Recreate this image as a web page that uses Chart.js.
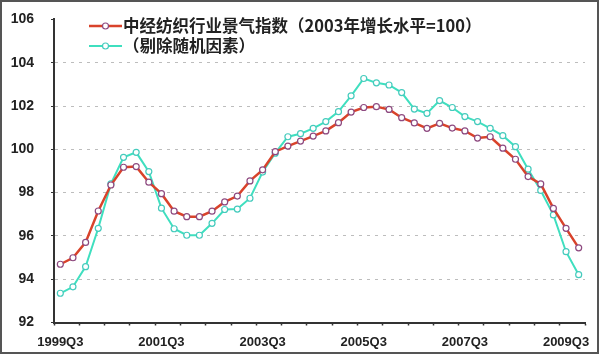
<!DOCTYPE html>
<html>
<head>
<meta charset="utf-8">
<script src="https://cdn.jsdelivr.net/npm/chart.js@4.4.1/dist/chart.umd.min.js"></script>
<style>
  html, body { margin: 0; padding: 0; background: #ffffff; }
  #wrap { width: 600px; height: 356px; position: relative; }
</style>
</head>
<body>
<div id="wrap"><canvas id="c" width="600" height="356"></canvas></div>
<script>
const quarters = [
  '1999Q3','1999Q4',
  '2000Q1','2000Q2','2000Q3','2000Q4',
  '2001Q1','2001Q2','2001Q3','2001Q4',
  '2002Q1','2002Q2','2002Q3','2002Q4',
  '2003Q1','2003Q2','2003Q3','2003Q4',
  '2004Q1','2004Q2','2004Q3','2004Q4',
  '2005Q1','2005Q2','2005Q3','2005Q4',
  '2006Q1','2006Q2','2006Q3','2006Q4',
  '2007Q1','2007Q2','2007Q3','2007Q4',
  '2008Q1','2008Q2','2008Q3','2008Q4',
  '2009Q1','2009Q2','2009Q3','2009Q4'
];
const indexValues = [
  94.69, 94.99, 95.70, 97.15, 98.35, 99.17, 99.20, 98.48, 97.95, 97.14,
  96.89, 96.89, 97.14, 97.57, 97.84, 98.54, 99.05, 99.89, 100.15, 100.38,
  100.61, 100.85, 101.23, 101.72, 101.93, 101.97, 101.84, 101.46, 101.22, 100.97,
  101.20, 100.98, 100.85, 100.52, 100.58, 100.05, 99.54, 98.74, 98.40, 97.27,
  96.35, 95.45
];
const adjustedValues = [
  93.35, 93.65, 94.58, 96.35, 98.40, 99.63, 99.86, 98.97, 97.28, 96.33,
  96.03, 96.03, 96.58, 97.22, 97.24, 97.74, 98.95, 99.82, 100.58, 100.72,
  100.97, 101.28, 101.74, 102.47, 103.27, 103.07, 102.97, 102.62, 101.86, 101.66,
  102.25, 101.93, 101.51, 101.28, 100.97, 100.63, 100.12, 99.08, 98.10, 96.97,
  95.27, 94.21
];
const seriesNames = ['中经纺织行业景气指数（2003年增长水平=100）', '（剔除随机因素）'];
const yMin = 92, yMax = 106, yStep = 2;

const RED = '#d9432b', RED_MARK = '#8e4a80';
const CYAN = '#3fdfbf', CYAN_MARK = '#45cbbd';

const framePlugin = {
  id: 'frame',
  beforeDraw(chart) {
    const ctx = chart.ctx;
    ctx.save();
    ctx.fillStyle = '#ffffff';
    ctx.fillRect(0, 0, chart.width, chart.height);
    ctx.restore();
  },
  afterDraw(chart) {
    const ctx = chart.ctx;
    ctx.save();
    ctx.strokeStyle = '#555555';
    ctx.lineWidth = 2;
    ctx.strokeRect(1, 1, 597, 352);
    const rows = [
      {y: 26, color: RED, mark: RED_MARK, lw: 2.5, text: seriesNames[0]},
      {y: 46, color: CYAN, mark: CYAN_MARK, lw: 2, text: seriesNames[1]}
    ];
    rows.forEach(r => {
      ctx.strokeStyle = r.color;
      ctx.lineWidth = r.lw;
      ctx.beginPath();
      ctx.moveTo(89, r.y);
      ctx.lineTo(122, r.y);
      ctx.stroke();
      ctx.beginPath();
      ctx.arc(105.5, r.y, 3, 0, Math.PI * 2);
      ctx.fillStyle = '#ffffff';
      ctx.fill();
      ctx.lineWidth = 1.2;
      ctx.strokeStyle = r.mark;
      ctx.stroke();
      ctx.fillStyle = '#222222';
      ctx.font = 'bold 16.5px "Noto Sans CJK SC"';
      ctx.textBaseline = 'middle';
      ctx.textAlign = 'left';
      ctx.fillText(r.text, 123, r.y);
    });
    ctx.restore();
  }
};

new Chart(document.getElementById('c'), {
  type: 'line',
  data: {
    labels: quarters,
    datasets: [
      {
        label: seriesNames[0],
        data: indexValues,
        borderColor: RED,
        borderWidth: 2.5,
        pointRadius: 3,
        pointBorderWidth: 1.2,
        pointBorderColor: RED_MARK,
        pointBackgroundColor: '#ffffff',
        tension: 0
      },
      {
        label: seriesNames[1],
        data: adjustedValues,
        borderColor: CYAN,
        borderWidth: 2,
        pointRadius: 3,
        pointBorderWidth: 1.2,
        pointBorderColor: CYAN_MARK,
        pointBackgroundColor: '#ffffff',
        tension: 0
      }
    ]
  },
  options: {
    responsive: false,
    animation: false,
    devicePixelRatio: 1,
    layout: { padding: { top: 19.4, right: 15, bottom: 0, left: 0 } },
    plugins: { legend: { display: false }, tooltip: { enabled: false } },
    scales: {
      x: {
        type: 'category',
        offset: true,
        afterFit(scale) { scale.height = 33.5; scale.paddingLeft = 0; scale.paddingRight = 0; },
        grid: {
          display: true,
          offset: true,
          drawOnChartArea: false,
          tickLength: 3,
          color: '#333333',
          tickColor: (ctx) => (ctx.index === undefined || ctx.index % 2 === 0) ? '#333333' : 'rgba(0,0,0,0)',
          tickWidth: 1.5
        },
        border: { display: true, color: '#333333', width: 2 },
        ticks: {
          autoSkip: false,
          maxRotation: 0,
          minRotation: 0,
          padding: 9,
          color: '#222222',
          font: { family: '"Liberation Sans", Arial', size: 13, weight: 'bold' },
          callback: (val, idx) => idx % 8 === 0 ? quarters[idx] : ''
        }
      },
      y: {
        min: yMin,
        max: yMax,
        afterFit(scale) { scale.width = 54; scale.paddingTop = 0; scale.paddingBottom = 0; },
        grid: {
          drawOnChartArea: true,
          tickLength: 3,
          color: (ctx) => (ctx.tick && (ctx.tick.value === yMin || ctx.tick.value === yMax)) ? 'rgba(0,0,0,0)' : '#bdbdbd',
          tickColor: '#333333',
          lineWidth: 1
        },
        border: { display: true, color: '#333333', width: 2, dash: [3, 5] },
        ticks: {
          stepSize: yStep,
          padding: 17,
          color: '#222222',
          font: { family: '"Liberation Sans", Arial', size: 14, weight: 'bold' }
        }
      }
    }
  },
  plugins: [framePlugin]
});
</script>
</body>
</html>
